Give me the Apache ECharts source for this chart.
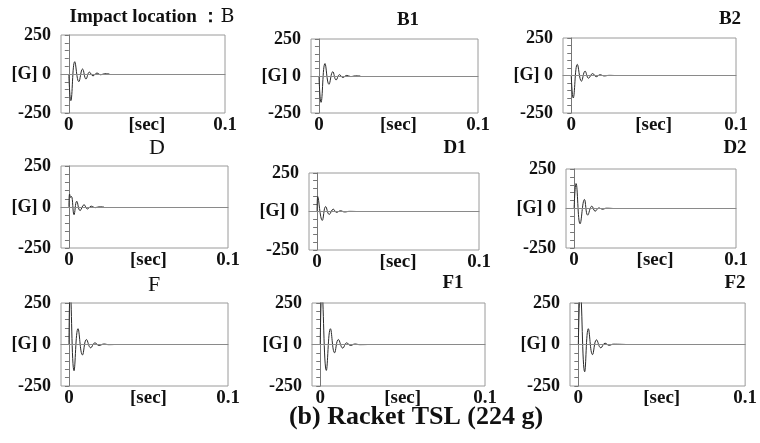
<!DOCTYPE html>
<html>
<head>
<meta charset="utf-8">
<script src="https://cdn.jsdelivr.net/npm/echarts@6/dist/echarts.min.js"></script>
<style>html,body{margin:0;padding:0;background:#fff}#c{width:760px;height:443px}</style>
</head>
<body>
<div id="c"></div>
<script>
// Acceleration [G] vs time [sec] — peak points
var sigB  = [[0,0],[0.0013,-171],[0.0038,79],[0.0064,-49],[0.0088,32],[0.011,-32],[0.0132,12],[0.0155,-12],[0.018,6],[0.0205,-5],[0.023,2],[0.026,0]];
var sigB1 = [[0,0],[0.0013,-178],[0.0038,84],[0.0063,-56],[0.0087,29],[0.0108,-27],[0.0129,9],[0.015,-10],[0.0175,4],[0.02,-4],[0.023,1],[0.026,0]];
var sigB2 = [[0,0],[0.0012,-150],[0.0037,74],[0.0062,-38],[0.0084,29],[0.0105,-18],[0.013,13],[0.0152,-8],[0.0175,5],[0.02,-3],[0.023,1],[0.026,0]];
var sigD  = [[0,0],[0.0004,79],[0.0011,58],[0.0016,64],[0.0032,-47],[0.0049,35],[0.007,-22],[0.0095,14],[0.0116,-12],[0.014,5],[0.0165,-4],[0.019,1],[0.022,0]];
var sigD1 = [[0,0],[0.0004,97],[0.0032,-58],[0.0053,32],[0.0075,-19],[0.01,15],[0.012,-6],[0.0145,5],[0.017,-3],[0.02,1],[0.024,0]];
var sigD2 = [[0,0],[0.0012,158],[0.0037,-97],[0.0064,57],[0.0084,-42],[0.011,15],[0.013,-17],[0.0154,4],[0.0175,-5],[0.02,2],[0.024,0]];
var sigF  = [[0,0],[0.0008,320],[0.0032,-158],[0.0057,95],[0.0085,-63],[0.011,30],[0.0137,-20],[0.0163,10],[0.019,-6],[0.022,3],[0.025,-1],[0.0285,0]];
var sigF1 = [[0,0],[0.001,320],[0.0037,-156],[0.0062,95],[0.0087,-50],[0.011,30],[0.0137,-22],[0.016,10],[0.0185,-6],[0.021,3],[0.024,-1],[0.029,0]];
var sigF2 = [[0,0],[0.0012,320],[0.0038,-164],[0.006,95],[0.0085,-61],[0.0109,28],[0.0135,-20],[0.016,8],[0.0185,-5],[0.021,2],[0.0285,0]];

var panelTitles = ['B','B1','B2','D','D1','D2','F','F1','F2'];
var signals = [sigB, sigB1, sigB2, sigD, sigD1, sigD2, sigF, sigF1, sigF2];
var yTickLabels = [-250, 0, 250];
var xTickLabels = [0, 0.05, 0.1];
var yMin = -250, yMax = 250, xMin = -0.005, xMax = 0.1;

// layout (px): left, top, width, height
var rects = [
  [61,35,164,78],[311,39,167,74],[563,38,173,75],
  [61,166,167,82],[309,173,170,77],[566,169,170,79],
  [61,303,167,83],[312,303,173,83],[570,303,178,83]
];
var titlePos = [
  [152,8],[408,11],[730,10],
  [157,137],[455,139],[735,139],
  [154,274],[453,274],[735,274]
];
var serif = 'Liberation Serif';
var grids=[], xAxes=[], yAxes=[], series=[], titles=[];
for (var i=0;i<9;i++){
  var r = rects[i];
  grids.push({left:r[0], top:r[1], width:r[2], height:r[3], show:true, borderColor:'#9a9a9a', borderWidth:1});
  xAxes.push({
    type:'value', gridIndex:i, min:xMin, max:xMax,
    axisLine:{show:true, lineStyle:{color:'#8a8a8a', width:1}},
    axisTick:{show:false}, splitLine:{show:false},
    axisLabel:{customValues:xTickLabels, margin:3, color:'#111', fontFamily:serif, fontWeight:'bold', fontSize:19,
      formatter:function(v){ return v===0 ? '0' : (Math.abs(v-0.05)<1e-9 ? '[sec]' : '0.1'); }}
  });
  yAxes.push({
    type:'value', gridIndex:i, min:yMin, max:yMax, interval:50,
    axisLine:{show:true, lineStyle:{color:'#777', width:1}},
    axisTick:{show:true, length:4, lineStyle:{color:'#777'}},
    splitLine:{show:false},
    axisLabel:{customValues:yTickLabels, margin:10, color:'#111', fontFamily:serif, fontWeight:'bold', fontSize:18,
      formatter:function(v){ return v===0 ? '[G] 0' : (v<0 ? '-' + Math.abs(v) : String(v)); }}
  });
  series.push({
    type:'line', xAxisIndex:i, yAxisIndex:i, data:signals[i], showSymbol:false, smooth:0.45,
    clip:true, lineStyle:{color:'#2a2a2a', width:1}, silent:true,
    markLine:{silent:true, symbol:['none','none'], label:{show:false},
      lineStyle:{color:'#8a8a8a', type:'solid', width:1}, data:[{yAxis:0}]}
  });
  var t = panelTitles[i];
  var isLetter = t.length===1;
  titles.push({
    text: i===0 ? '{a|Impact location ：}{b|B}' : t,
    left: titlePos[i][0], top: titlePos[i][1], textAlign:'center', padding:0,
    textStyle:{fontFamily:serif, fontWeight: isLetter ? 'normal' : 'bold', fontSize: isLetter ? 22 : 19, color:'#111',
      rich:{a:{fontFamily:serif, fontWeight:'bold', fontSize:19, color:'#111'}, b:{fontFamily:'DejaVu Serif', fontSize:19, color:'#111'}}}
  });
}
titles.push({text:'(b) Racket TSL (224 g)', left:416, top:404, textAlign:'center', padding:0,
  textStyle:{fontFamily:serif, fontWeight:'bold', fontSize:26, color:'#111'}});

var chart = echarts.init(document.getElementById('c'), null, {renderer:'canvas'});
chart.setOption({animation:false, backgroundColor:'#fff', title:titles, grid:grids, xAxis:xAxes, yAxis:yAxes, series:series});
</script>
</body>
</html>
